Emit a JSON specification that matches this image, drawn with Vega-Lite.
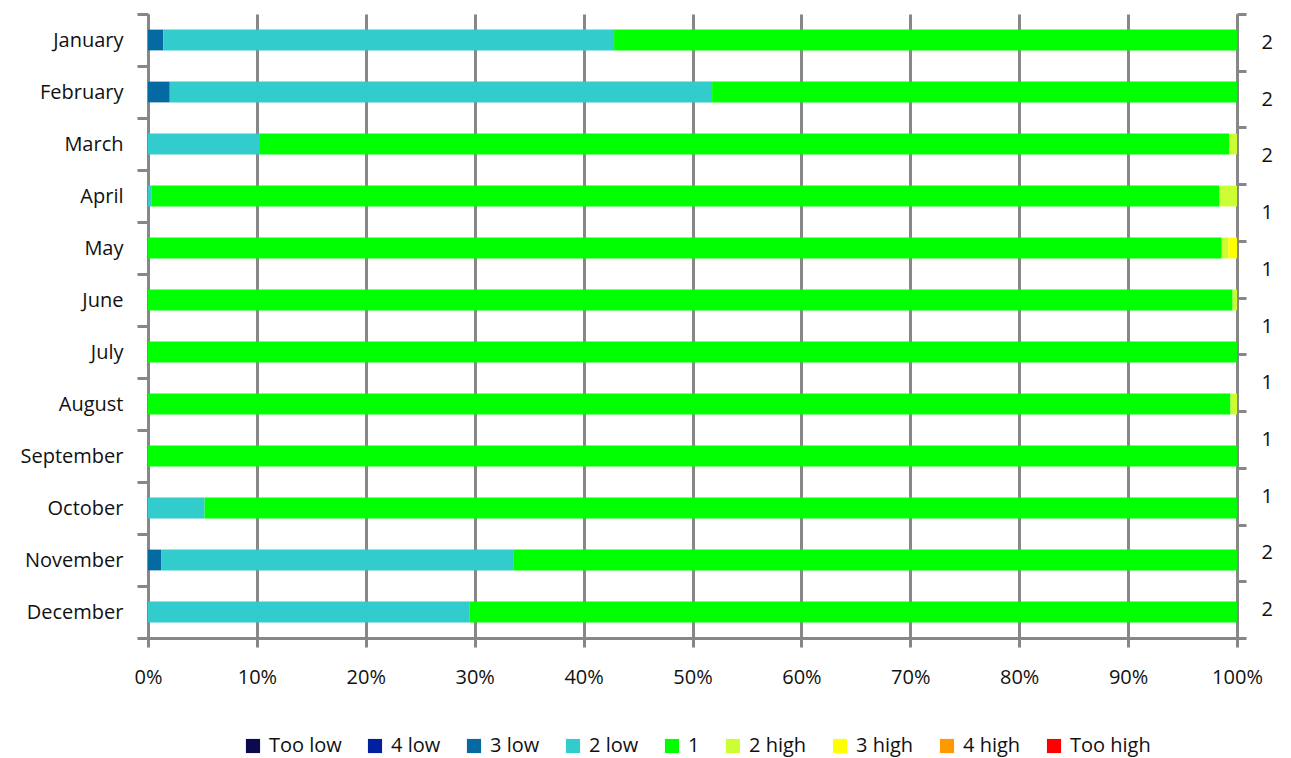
{
  "$schema": "https://vega.github.io/schema/vega-lite/v6.json",
  "width": 1089,
  "height": 624,
  "autosize": {"type": "none"},
  "padding": {"left": 148, "top": 14, "right": 54, "bottom": 120},
  "background": "white",
  "config": {
    "font": "Open Sans",
    "view": {"stroke": null},
    "axis": {
      "domainColor": "#878787",
      "domainWidth": 3,
      "tickColor": "#878787",
      "tickWidth": 3,
      "labelFont": "Open Sans",
      "labelFontSize": 20,
      "labelColor": "#111111",
      "title": null
    }
  },
  "layer": [
    {
      "data": {
        "values": [
          {"month": "January", "cat": "3 low", "k": 3, "pct": 1.4},
          {"month": "January", "cat": "2 low", "k": 4, "pct": 41.4},
          {"month": "January", "cat": "1", "k": 5, "pct": 57.2},
          {"month": "February", "cat": "3 low", "k": 3, "pct": 2.0},
          {"month": "February", "cat": "2 low", "k": 4, "pct": 49.8},
          {"month": "February", "cat": "1", "k": 5, "pct": 48.2},
          {"month": "March", "cat": "2 low", "k": 4, "pct": 10.2},
          {"month": "March", "cat": "1", "k": 5, "pct": 89.1},
          {"month": "March", "cat": "2 high", "k": 6, "pct": 0.7},
          {"month": "April", "cat": "2 low", "k": 4, "pct": 0.3},
          {"month": "April", "cat": "1", "k": 5, "pct": 98.1},
          {"month": "April", "cat": "2 high", "k": 6, "pct": 1.6},
          {"month": "May", "cat": "1", "k": 5, "pct": 98.6},
          {"month": "May", "cat": "2 high", "k": 6, "pct": 0.6},
          {"month": "May", "cat": "3 high", "k": 7, "pct": 0.8},
          {"month": "June", "cat": "1", "k": 5, "pct": 99.6},
          {"month": "June", "cat": "2 high", "k": 6, "pct": 0.4},
          {"month": "July", "cat": "1", "k": 5, "pct": 100},
          {"month": "August", "cat": "1", "k": 5, "pct": 99.4},
          {"month": "August", "cat": "2 high", "k": 6, "pct": 0.6},
          {"month": "September", "cat": "1", "k": 5, "pct": 100},
          {"month": "October", "cat": "2 low", "k": 4, "pct": 5.2},
          {"month": "October", "cat": "1", "k": 5, "pct": 94.8},
          {"month": "November", "cat": "3 low", "k": 3, "pct": 1.2},
          {"month": "November", "cat": "2 low", "k": 4, "pct": 32.4},
          {"month": "November", "cat": "1", "k": 5, "pct": 66.4},
          {"month": "December", "cat": "2 low", "k": 4, "pct": 29.5},
          {"month": "December", "cat": "1", "k": 5, "pct": 70.5}
        ]
      },
      "mark": {"type": "bar", "height": {"band": 0.4}},
      "encoding": {
        "y": {
          "field": "month",
          "type": "nominal",
          "sort": ["January", "February", "March", "April", "May", "June", "July", "August", "September", "October", "November", "December"],
          "scale": {"paddingInner": 0, "paddingOuter": 0},
          "axis": {"tickBand": "extent", "tickSize": 11, "labelPadding": 14}
        },
        "x": {
          "field": "pct",
          "type": "quantitative",
          "stack": "normalize",
          "scale": {"domain": [0, 1], "nice": false},
          "axis": {
            "format": "%",
            "values": [0, 0.1, 0.2, 0.3, 0.4, 0.5, 0.6, 0.7, 0.8, 0.9, 1],
            "grid": true,
            "gridColor": "#878787",
            "gridWidth": 3,
            "tickSize": 9,
            "labelPadding": 20,
            "labelFlush": false
          }
        },
        "color": {
          "field": "cat",
          "type": "nominal",
          "scale": {
            "domain": ["Too low", "4 low", "3 low", "2 low", "1", "2 high", "3 high", "4 high", "Too high"],
            "range": ["#0B0A4F", "#00209F", "#066AA2", "#33CCCC", "#00FF00", "#CCFF33", "#FFFF00", "#FF9900", "#FF0000"]
          },
          "legend": {
            "orient": "none",
            "legendX": 95,
            "legendY": 722,
            "direction": "horizontal",
            "title": null,
            "symbolType": "square",
            "symbolSize": 200,
            "symbolStrokeWidth": 0,
            "symbolOpacity": 1,
            "labelFont": "Open Sans",
            "labelFontSize": 20,
            "labelColor": "#111111",
            "labelOffset": 6,
            "columnPadding": 23,
            "labelLimit": 300
          }
        },
        "order": {"field": "k", "type": "quantitative"}
      }
    },
    {
      "data": {
        "values": [
          {"r": "2a"}, {"r": "2b"}, {"r": "2c"}, {"r": "1a"}, {"r": "1b"}, {"r": "1c"},
          {"r": "1d"}, {"r": "1e"}, {"r": "1f"}, {"r": "2d"}, {"r": "2e"}
        ]
      },
      "mark": {"type": "point", "opacity": 0},
      "encoding": {
        "y": {
          "field": "r",
          "type": "nominal",
          "scale": {
            "type": "band",
            "domain": ["2a", "2b", "2c", "1a", "1b", "1c", "1d", "1e", "1f", "2d", "2e"],
            "paddingInner": 0,
            "paddingOuter": 0
          },
          "axis": {
            "orient": "right",
            "tickBand": "extent",
            "tickSize": 9,
            "labelPadding": 15,
            "labelExpr": "isString(datum.value) ? substring(datum.value, 0, 1) : ''"
          }
        }
      }
    }
  ],
  "resolve": {"scale": {"y": "independent", "color": "shared"}}
}
